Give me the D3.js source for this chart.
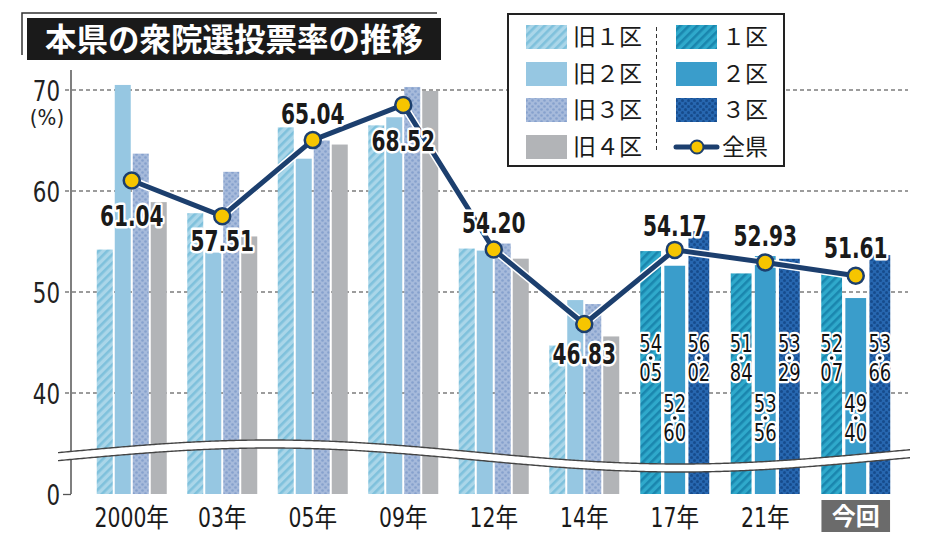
<!DOCTYPE html>
<html><head><meta charset="utf-8">
<script src="https://cdn.jsdelivr.net/npm/d3@7"></script>
<style>
html,body{margin:0;padding:0;background:#fff;}
svg{display:block;}
</style></head>
<body>
<svg id="chart" width="934" height="545"></svg>
<script>
// ---------- data ----------
const categories = ["2000年","03年","05年","09年","12年","14年","17年","21年","今回"];
const oldCategories = ["2000年","03年","05年","09年","12年","14年"];
const newCategories = ["17年","21年","今回"];
const oldSeries = ["旧１区","旧２区","旧３区","旧４区"];
const newSeries = ["１区","２区","３区"];
const old1 = [54.2, 57.8, 66.3, 66.5, 54.3, 44.7];
const old2 = [70.5, 53.9, 63.2, 67.3, 54.1, 49.2];
const old3 = [63.7, 61.9, 65.0, 70.3, 54.8, 48.8];
const old4 = [58.9, 55.5, 64.6, 69.9, 53.3, 45.6];
const new1 = [54.05, 51.84, 52.07];
const new2 = [52.60, 53.56, 49.40];
const new3 = [56.02, 53.29, 53.66];
const prefTotal = [61.04, 57.51, 65.04, 68.52, 54.20, 46.83, 54.17, 52.93, 51.61];
const yTicks = [0, 40, 50, 60, 70];
const titleText = "本県の衆院選投票率の推移";
const totalLabel = "全県";

// ---------- layout / style (not data) ----------
const labelDy = [46, 35, -16, 46, -17, 40, -14, -16, -18];
const narrow = "'Liberation Sans Narrow','DejaVu Sans Condensed','Noto Sans CJK JP',sans-serif";
const cjk = "'Noto Sans CJK JP','Noto Sans',sans-serif";
const navy = "#1c3f6e";

function squeeze(sel, s) {
  sel.each(function () {
    const t = d3.select(this);
    const tx = +t.attr("x") || 0, ty = +t.attr("y") || 0;
    t.attr("x", 0).attr("y", 0).attr("transform", `translate(${tx},${ty}) scale(${s},1)`);
  });
}

const svg = d3.select("#chart");
const defs = svg.append("defs");

function stripes(id, base, stripe) {
  const p = defs.append("pattern").attr("id", id).attr("patternUnits","userSpaceOnUse")
    .attr("width", 6).attr("height", 6).attr("patternTransform","rotate(45)");
  p.append("rect").attr("width",6).attr("height",6).attr("fill",base);
  p.append("rect").attr("width",2.6).attr("height",6).attr("fill",stripe);
}
function dots(id, base, dot, r) {
  const p = defs.append("pattern").attr("id", id).attr("patternUnits","userSpaceOnUse")
    .attr("width", 6).attr("height", 6);
  p.append("rect").attr("width",6).attr("height",6).attr("fill",base);
  p.append("circle").attr("cx",1.5).attr("cy",1.5).attr("r",r).attr("fill",dot);
  p.append("circle").attr("cx",4.5).attr("cy",4.5).attr("r",r).attr("fill",dot);
}
stripes("pOld1", "#aad6e9", "#7fc1dc");
dots("pOld3", "#a6badb", "#86a1cd", 1.3);
stripes("pNew1", "#2fa9cb", "#1a86ae");
dots("pNew3", "#2767b0", "#164b8c", 1.5);

const oldFill = ["url(#pOld1)", "#96c7e2", "url(#pOld3)", "#b2b4b7"];
const newFill = ["url(#pNew1)", "#3a9dcb", "url(#pNew3)"];

// ---------- scales ----------
const x = d3.scaleBand().domain(categories).range([86.5, 901]).padding(0);
const cx = c => x(c) + x.bandwidth() / 2;
const xOld = d3.scaleBand().domain(oldSeries).range([-35, 35]).paddingInner(0.111);
const xNew = d3.scaleBand().domain(newSeries).range([-34.5, 34.5]).paddingInner(0.1375);
const y = d3.scaleLinear().domain([0, 40, 70]).range([494, 393, 90]);

// ---------- gridlines ----------
svg.append("g").selectAll("line").data(yTicks.filter(t => t > 0)).join("line")
  .attr("x1", 65).attr("x2", 908)
  .attr("y1", d => y(d)).attr("y2", d => y(d))
  .attr("stroke", "#3a3a3a").attr("stroke-width", 1.2).attr("stroke-dasharray", "4,3");

// ---------- y axis ----------
const yAxis = d3.axisLeft(y).tickValues(yTicks).tickSize(8).tickFormat(d3.format("d"));
const gy = svg.append("g").attr("transform", "translate(71,0)").call(yAxis);
gy.select(".domain").attr("d", `M0,${y(0)}V70`).attr("stroke", "#555").attr("stroke-width", 1.5);
gy.selectAll(".tick line").attr("stroke", "#555").attr("stroke-width", 1.3)
  .attr("display", d => d === 0 ? null : "none");
gy.selectAll(".tick text").attr("x", -11).attr("y", 0).attr("font-family", narrow).attr("font-size", 28)
  .attr("fill", "#222").attr("dy", "0.36em");
squeeze(gy.selectAll(".tick text"), 0.85);
svg.append("text").attr("x", 47).attr("y", 125).attr("text-anchor", "middle")
  .attr("font-family", narrow).attr("font-size", 22).attr("fill", "#222").text("(%)");

// ---------- bars ----------
const oldVals = [old1, old2, old3, old4];
const newVals = [new1, new2, new3];
const oldRows = [];
oldCategories.forEach((c, i) => oldSeries.forEach((s, j) => oldRows.push({c, s, j, v: oldVals[j][i]})));
const newRows = [];
newCategories.forEach((c, i) => newSeries.forEach((s, j) => newRows.push({c, s, j, v: newVals[j][i]})));

svg.append("g").selectAll("rect").data(oldRows).join("rect")
  .attr("x", d => cx(d.c) + xOld(d.s)).attr("width", xOld.bandwidth())
  .attr("y", d => y(d.v)).attr("height", d => y(0) - y(d.v))
  .attr("fill", d => oldFill[d.j]);
svg.append("g").selectAll("rect").data(newRows).join("rect")
  .attr("x", d => cx(d.c) + xNew(d.s)).attr("width", xNew.bandwidth())
  .attr("y", d => y(d.v)).attr("height", d => y(0) - y(d.v))
  .attr("fill", d => newFill[d.j]);

// ---------- axis break ----------
const waveX = d3.range(58, 911, 4);
const wc = xx => 456 - 12 * Math.sin(2 * Math.PI * (xx - 65) / 820);
const upper = waveX.map(xx => [xx, wc(xx) - 4]);
const lower = waveX.map(xx => [xx, wc(xx) + 4]);
const ln = d3.line().curve(d3.curveBasis);
svg.append("path").attr("d", ln(upper.concat(lower.slice().reverse())) + "Z").attr("fill", "#fff");
svg.append("path").attr("d", ln(upper)).attr("fill", "none").attr("stroke", "#444").attr("stroke-width", 1.4);
svg.append("path").attr("d", ln(lower)).attr("fill", "none").attr("stroke", "#444").attr("stroke-width", 1.4);

// ---------- new-district value labels ----------
const vl = svg.append("g");
newRows.forEach(d => {
  const [a, b] = d.v.toFixed(2).split(".");
  const top = d.j === 1 ? 403.5 : 343.5;
  const xc = cx(d.c) + xNew(d.s) + xNew.bandwidth() / 2;
  [[a, top], [b, top + 29]].forEach(([t, yy]) => {
    vl.append("text").attr("x", xc).attr("y", yy + 8.5)
      .attr("text-anchor", "middle").attr("font-family", narrow).attr("font-size", 25)
      .attr("fill", "#111").attr("stroke", "#fff").attr("stroke-width", 4.5)
      .attr("stroke-linejoin", "round").attr("paint-order", "stroke").text(t)
      .call(squeeze, 0.8);
  });
  vl.append("circle").attr("cx", xc).attr("cy", top + 14.5).attr("r", 4.5).attr("fill", "#fff");
  vl.append("circle").attr("cx", xc).attr("cy", top + 14.5).attr("r", 1.8).attr("fill", "#111");
});

// ---------- total line ----------
const pts = categories.map((c, i) => [cx(c), y(prefTotal[i])]);
const line = d3.line();
svg.append("path").attr("d", line(pts)).attr("fill", "none").attr("stroke", "#fff")
  .attr("stroke-width", 8).attr("stroke-linejoin", "round");
svg.append("path").attr("d", line(pts)).attr("fill", "none").attr("stroke", navy)
  .attr("stroke-width", 5).attr("stroke-linejoin", "round");
svg.append("g").selectAll("circle").data(pts).join("circle")
  .attr("cx", d => d[0]).attr("cy", d => d[1]).attr("r", 8)
  .attr("fill", "#f6c500").attr("stroke", navy).attr("stroke-width", 2.5);

svg.append("g").selectAll("text").data(categories).join("text")
  .attr("x", c => cx(c)).attr("y", (c, i) => y(prefTotal[i]) + labelDy[i])
  .attr("text-anchor", "middle").attr("font-family", narrow).attr("font-weight", "bold")
  .attr("font-size", 28).attr("fill", "#1a1a1a").attr("stroke", "#fff").attr("stroke-width", 5)
  .attr("stroke-linejoin", "round").attr("paint-order", "stroke")
  .text((c, i) => prefTotal[i].toFixed(2))
  .call(squeeze, 0.8);

// ---------- x labels ----------
const lastCat = categories[categories.length - 1];
svg.append("rect").attr("x", cx(lastCat) - 34.3).attr("y", 500).attr("width", 68.6).attr("height", 32)
  .attr("fill", "#6b6b6b");
const xl = svg.append("g").selectAll("text").data(categories).join("text")
  .attr("x", c => cx(c)).attr("y", c => c === lastCat ? 525 : 527).attr("text-anchor", "middle")
  .attr("font-family", c => c === lastCat ? cjk : narrow)
  .attr("font-weight", c => c === lastCat ? "bold" : "normal")
  .attr("font-size", c => c === lastCat ? 24 : 26)
  .attr("fill", c => c === lastCat ? "#fff" : "#1a1a1a")
  .text(c => c);
squeeze(xl.filter(c => c !== lastCat), 0.87);

// ---------- title ----------
svg.append("path").attr("d", "M22,55V13H437").attr("fill", "none").attr("stroke", "#333").attr("stroke-width", 1.5);
svg.append("rect").attr("x", 27).attr("y", 18).attr("width", 414).attr("height", 42).attr("fill", "#1a1a1a");
svg.append("text").attr("x", 45).attr("y", 51).attr("font-family", cjk).attr("font-weight", "bold")
  .attr("font-size", 31.5).attr("fill", "#fff").text(titleText);

// ---------- legend ----------
const lg = svg.append("g");
lg.append("rect").attr("x", 508).attr("y", 14).attr("width", 276).attr("height", 152)
  .attr("fill", "#fff").attr("stroke", "#222").attr("stroke-width", 2);
lg.append("line").attr("x1", 656.5).attr("x2", 656.5).attr("y1", 27).attr("y2", 153)
  .attr("stroke", "#333").attr("stroke-width", 1).attr("stroke-dasharray", "4,3");
const rowY = [37, 74, 110, 147];
oldSeries.forEach((s, i) => {
  lg.append("rect").attr("x", 526).attr("y", rowY[i] - 12).attr("width", 41).attr("height", 24).attr("fill", oldFill[i]);
  lg.append("text").attr("x", 573).attr("y", rowY[i]).attr("dy", "0.36em").attr("font-family", cjk)
    .attr("font-size", 23).attr("fill", "#1a1a1a").text(s);
});
newSeries.forEach((s, i) => {
  lg.append("rect").attr("x", 676).attr("y", rowY[i] - 12).attr("width", 41).attr("height", 24).attr("fill", newFill[i]);
  lg.append("text").attr("x", 722).attr("y", rowY[i]).attr("dy", "0.36em").attr("font-family", cjk)
    .attr("font-size", 23).attr("fill", "#1a1a1a").text(s);
});
lg.append("line").attr("x1", 676).attr("x2", 717).attr("y1", rowY[3]).attr("y2", rowY[3])
  .attr("stroke", navy).attr("stroke-width", 5).attr("stroke-linecap", "round");
lg.append("circle").attr("cx", 697).attr("cy", rowY[3]).attr("r", 6.5).attr("fill", "#f6c500")
  .attr("stroke", navy).attr("stroke-width", 2);
lg.append("text").attr("x", 722).attr("y", rowY[3]).attr("dy", "0.36em").attr("font-family", cjk)
  .attr("font-size", 23).attr("fill", "#1a1a1a").text(totalLabel);
</script>
</body></html>
